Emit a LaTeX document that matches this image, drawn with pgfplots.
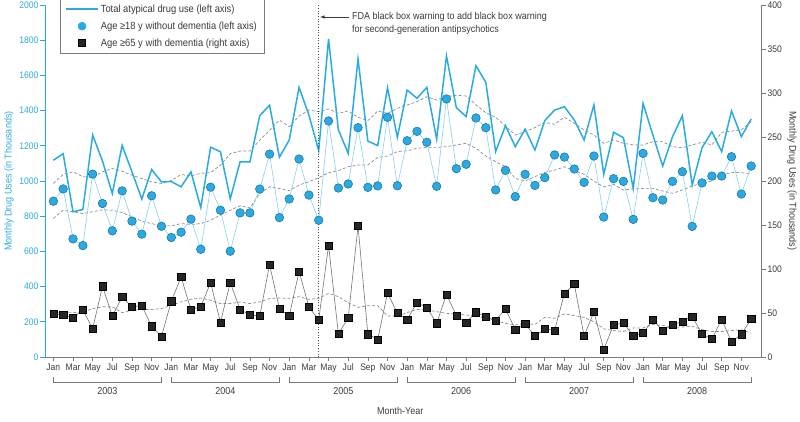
\documentclass[border=0pt]{standalone}
\usepackage{fontspec}
\setmainfont{Liberation Sans}[FakeStretch=0.9]
\usepackage{pgfplots}
\pgfplotsset{compat=1.18}
\usepackage{pgfplotstable}

\definecolor{cy}{HTML}{29ABE2}
\definecolor{cyl}{HTML}{86CFF0}
\definecolor{cyd}{HTML}{1A6A9A}
\definecolor{axg}{HTML}{7A7A7A}
\definecolor{txtg}{HTML}{3A3A3A}
\definecolor{dashg}{HTML}{8C8C8C}

\pgfplotsset{
  longline legend/.style={legend image code/.code={\draw[##1] (0pt,0pt) -- (32pt,0pt);}},
  midmark legend/.style={legend image code/.code={\draw[##1] plot coordinates {(16pt,0pt)};}},
}

\pgfplotstableread{
i T C U L
0 1118 885 986 787
1 1155 955 1037 834
2 825 671 1052 825
3 838 633 1024 815
4 1261 1039 1022 825
5 1113 872 1052 836
6 929 717 1071 834
7 1202 944 1056 821
8 1052 772 1033 796
9 897 698 1014 772
10 1065 916 995 758
11 995 743 986 745
12 997 679 1003 745
13 967 709 1037 758
14 1052 783 1029 753
15 849 612 1043 758
16 1192 965 1048 777
17 1166 834 1090 806
18 899 601 1156 834
19 1109 819 1170 859
20 1109 819 1170 847
21 1371 954 1232 929
22 1431 1153 1289 967
23 1135 792 1346 957
24 1233 898 1309 945
25 1532 1125 1369 977
26 1375 920 1403 996
27 1172 777 1394 1019
28 1807 1341 1409 1047
29 1290 960 1384 1059
30 1157 983 1398 1081
31 1693 1303 1362 1091
32 1227 964 1343 1091
33 1201 972 1398 1134
34 1530 1362 1384 1142
35 1248 973 1413 1167
36 1517 1229 1432 1172
37 1470 1282 1451 1186
38 1532 1220 1479 1191
39 1239 970 1460 1191
40 1710 1466 1479 1195
41 1417 1070 1487 1205
42 1366 1095 1483 1214
43 1655 1358 1432 1186
44 1561 1303 1388 1142
45 1167 949 1362 1110
46 1314 1061 1312 1081
47 1195 911 1261 1015
48 1295 1038 1280 1000
49 1176 975 1303 1025
50 1343 1019 1333 1049
51 1403 1148 1322 1061
52 1422 1136 1362 1081
53 1347 1068 1328 1059
54 1233 992 1290 1038
55 1432 1142 1261 1000
56 1038 795 1214 966
57 1277 1013 1233 981
58 1246 998 1214 949
59 958 782 1205 955
60 1441 1157 1205 958
61 1261 905 1223 958
62 1085 892 1223 943
63 1252 998 1195 930
64 1371 1053 1189 949
65 977 742 1205 972
66 1189 989 1220 987
67 1280 1028 1205 1000
68 1167 1028 1276 1034
69 1398 1138 1284 1049
70 1252 926 1290 1047
71 1352 1085 1337 1042
}\lefttab

\pgfplotstableread{
i S SD
0 48.9 50.4
1 47.8 50.4
2 44.7 50.4
3 53.5 51
4 32.2 55
5 80.4 57
6 46.6 57
7 68.2 50.4
8 56.9 53
9 58.4 54
10 34.9 54
11 23.5 55
12 63.3 58.8
13 91.0 62.6
14 53.5 65.6
15 57.3 67
16 84.5 64.5
17 39.4 60.7
18 84.5 60.7
19 53.8 62.6
20 47.8 60.7
21 46.6 62.6
22 105.0 66.4
23 55.0 67
24 46.6 66.7
25 97.3 68.6
26 56.8 65.5
27 42.0 66.7
28 126.9 72.3
29 26.5 68.6
30 44.3 61.7
31 148.9 56.4
32 25.8 58.3
33 20.1 58.3
34 72.7 46.6
35 50.0 46.6
36 42.8 50.4
37 61.7 54.2
38 56.4 53.4
39 38.3 51.5
40 71.2 49.6
41 47.0 48.9
42 39.4 47.7
43 50.8 46.6
44 45.8 43.9
45 41.3 41.3
46 54.9 38.3
47 31.0 36.4
48 37.5 38
49 23.9 37
50 31.8 45
51 30.3 44
52 72.0 49
53 83.0 47
54 23.9 45
55 51.1 40
56 8.7 32
57 36.4 30
58 38.6 29
59 24.2 33
60 27.3 33
61 42.4 37
62 29.9 36
63 36.4 34
64 40.5 34
65 46.2 35
66 26.1 31
67 20.5 29
68 42.8 29
69 17.0 30
70 25.8 31
71 43.2 27
}\righttab

\begin{document}
\begin{tikzpicture}[x=1pt,y=1pt]
\begin{axis}[
  at={(0,0)}, anchor=origin,
  width=716pt, height=352pt, scale only axis,
  xmin=-0.85, xmax=72, ymin=0, ymax=2000,
  axis x line*=bottom, axis y line*=left,
  x axis line style={axg, line width=0.8pt},
  y axis line style={cy, line width=0.9pt},
  tick align=outside, major tick length=4.5pt,
  xtick={0,2,...,70},
  xticklabels={Jan,Mar,May,Jul,Sep,Nov,Jan,Mar,May,Jul,Sep,Nov,Jan,Mar,May,Jul,Sep,Nov,Jan,Mar,May,Jul,Sep,Nov,Jan,Mar,May,Jul,Sep,Nov,Jan,Mar,May,Jul,Sep,Nov},
  xtick style={axg, line width=0.6pt},
  xticklabel style={txtg, font=\fontsize{9.5}{10}\selectfont, inner sep=2pt},
  ytick={0,200,...,2000},
  ytick style={cy, line width=0.7pt},
  yticklabel style={cy, font=\fontsize{9.5}{10}\selectfont, inner sep=2pt},
  /pgf/number format/assume math mode=true,
  /pgf/number format/1000 sep={},
  clip=false,
  legend style={at={(rel axis cs:0.021,1.019)}, anchor=north west, draw=axg, line width=0.6pt,
     font=\fontsize{10.4}{12}\selectfont, text=txtg, cells={anchor=west}, row sep=4pt,
     inner xsep=5pt, inner ysep=4pt},
  legend cell align=left,
]
\addlegendimage{cy, line width=1.5pt, longline legend}
\addlegendentry{Total atypical drug use (left axis)}
\addlegendimage{only marks, mark=*, mark size=4pt, mark options={fill=cy, draw=cy}, midmark legend}
\addlegendentry{Age \char"2265 18 y without dementia (left axis)}
\addlegendimage{only marks, mark=square*, mark size=3.6pt, mark options={fill=black!85, draw=black}, midmark legend}
\addlegendentry{Age \char"2265 65 y with dementia (right axis)}

\addplot[dashg, dashed, dash pattern=on 3pt off 2pt, line width=0.7pt, forget plot] table[x=i, y=U] {\lefttab};
\addplot[dashg, dashed, dash pattern=on 3pt off 2pt, line width=0.7pt, forget plot] table[x=i, y=L] {\lefttab};
\addplot[cyl, line width=0.6pt, mark=*, mark size=4.3pt, mark options={fill=cy, draw=cyd, line width=0.5pt}, forget plot] table[x=i, y=C] {\lefttab};
\addplot[cy, line width=1.5pt, forget plot] table[x=i, y=T] {\lefttab};

\draw[black!70, dotted, line width=0.7pt] (axis cs:27,0) -- (axis cs:27,2000);
\coordinate (LL) at (rel axis cs:0,0);

% year brackets
\draw[axg, line width=0.6pt] (axis cs:0,-114) -- (axis cs:0,-146) -- (axis cs:11,-146) -- (axis cs:11,-114);
\draw[axg, line width=0.6pt] (axis cs:12,-114) -- (axis cs:12,-146) -- (axis cs:23,-146) -- (axis cs:23,-114);
\draw[axg, line width=0.6pt] (axis cs:24,-114) -- (axis cs:24,-146) -- (axis cs:35,-146) -- (axis cs:35,-114);
\draw[axg, line width=0.6pt] (axis cs:36,-114) -- (axis cs:36,-146) -- (axis cs:47,-146) -- (axis cs:47,-114);
\draw[axg, line width=0.6pt] (axis cs:48,-114) -- (axis cs:48,-146) -- (axis cs:59,-146) -- (axis cs:59,-114);
\draw[axg, line width=0.6pt] (axis cs:60,-114) -- (axis cs:60,-146) -- (axis cs:71,-146) -- (axis cs:71,-114);
\node[txtg, font=\fontsize{10}{12}\selectfont] at (axis cs:5.5,-194) {2003};
\node[txtg, font=\fontsize{10}{12}\selectfont] at (axis cs:17.5,-194) {2004};
\node[txtg, font=\fontsize{10}{12}\selectfont] at (axis cs:29.5,-194) {2005};
\node[txtg, font=\fontsize{10}{12}\selectfont] at (axis cs:41.5,-194) {2006};
\node[txtg, font=\fontsize{10}{12}\selectfont] at (axis cs:53.5,-194) {2007};
\node[txtg, font=\fontsize{10}{12}\selectfont] at (axis cs:65.5,-194) {2008};
\node[txtg, font=\fontsize{10}{12}\selectfont] at (axis cs:35.3,-307) {Month-Year};
\end{axis}

\begin{axis}[
  at={(0,0)}, anchor=origin,
  width=716pt, height=352pt, scale only axis,
  xmin=-0.85, xmax=72, ymin=0, ymax=400,
  axis x line=none, axis y line*=right,
  y axis line style={axg, line width=0.9pt},
  tick align=outside, major tick length=4.5pt,
  ytick={0,50,...,400},
  ytick style={axg, line width=0.7pt},
  yticklabel style={txtg, font=\fontsize{9.5}{10}\selectfont, inner sep=2pt},
  /pgf/number format/assume math mode=true,
]
\addplot[dashg, dashed, dash pattern=on 3pt off 2pt, line width=0.7pt] table[x=i, y=SD] {\righttab};
\addplot[black!55, line width=0.6pt, mark=square*, mark size=3.6pt, mark options={fill=black!85, draw=black, line width=0.4pt}] table[x=i, y=S] {\righttab};
\end{axis}

\begin{scope}[shift={(LL)}]
% annotation
\draw[txtg, line width=0.6pt, -latex] (304,340) -- (275,340);
\node[txtg, anchor=west, align=left, font=\fontsize{10}{13}\selectfont, inner sep=0pt] at (307,333.5) {FDA black box warning to add black box warning\\for second-generation antipsychotics};
% axis titles
\node[cy, rotate=90, font=\fontsize{10}{12}\selectfont] at (-36,176) {Monthly Drug Uses (in Thousands)};
\node[txtg, rotate=-90, font=\fontsize{10}{12}\selectfont] at (747,176) {Monthly Drug Uses (in Thousands)};
\end{scope}

\pgfresetboundingbox
\useasboundingbox (LL) ++(-45,-65) rectangle ++(800,422);
\end{tikzpicture}
\end{document}
